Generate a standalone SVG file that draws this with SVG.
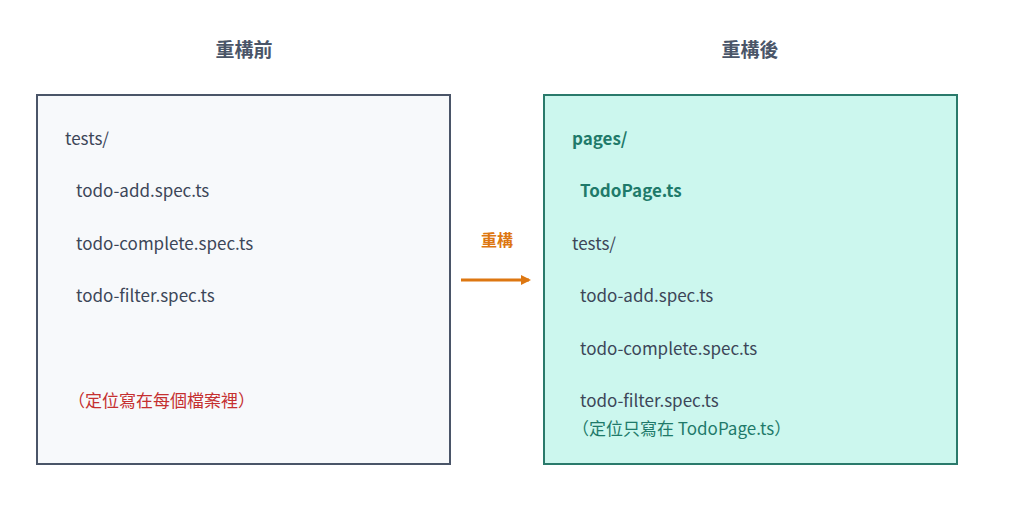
<svg xmlns="http://www.w3.org/2000/svg" width="1024" height="526" viewBox="0 0 1024 526">
<style>
text{font-family:"Noto Sans CJK TC","Noto Sans",sans-serif;}
.t{font-size:19px;font-weight:bold;fill:#4a5568;text-anchor:middle}
.f{font-size:17px;fill:#3c4658}
.g{font-size:17px;fill:#1f7a6a;font-weight:bold}
</style>
<defs><marker id="ah" markerWidth="10" markerHeight="10" refX="8" refY="5" orient="auto" markerUnits="userSpaceOnUse"><path d="M0,0L10,5L0,10Z" fill="#dd7711"/></marker></defs>
<rect width="1024" height="526" fill="#fff"/>
<g id="before">
<text class="t" x="244" y="57">重構前</text>
<rect x="37" y="95" width="413" height="369" fill="#f7f9fb" stroke="#4a5568" stroke-width="2"/>
<text class="f" x="65" y="145">tests/</text>
<text class="f" x="76" y="197">todo-add.spec.ts</text>
<text class="f" x="76" y="250">todo-complete.spec.ts</text>
<text class="f" x="76" y="302">todo-filter.spec.ts</text>
<text x="68" y="407" style="font-size:17px;fill:#c53030">（定位寫在每個檔案裡）</text>
</g>
<g id="after">
<text class="t" x="750" y="57">重構後</text>
<rect x="544" y="95" width="413" height="369" fill="#ccf7ee" stroke="#2a7a6b" stroke-width="2"/>
<text class="g" x="572" y="145">pages/</text>
<text class="g" x="580" y="197">TodoPage.ts</text>
<text class="f" x="572" y="250">tests/</text>
<text class="f" x="580" y="302">todo-add.spec.ts</text>
<text class="f" x="580" y="355">todo-complete.spec.ts</text>
<text class="f" x="580" y="407">todo-filter.spec.ts</text>
<text x="572" y="435" style="font-size:17px;fill:#1f7a6a">（定位只寫在 TodoPage.ts）</text>
</g>
<g id="connectors">
<text x="497" y="246" style="font-size:16px;font-weight:bold;fill:#dd7711;text-anchor:middle">重構</text>
<line x1="461" y1="280" x2="529" y2="280" stroke="#dd7711" stroke-width="3" marker-end="url(#ah)"/>
</g>
</svg>
